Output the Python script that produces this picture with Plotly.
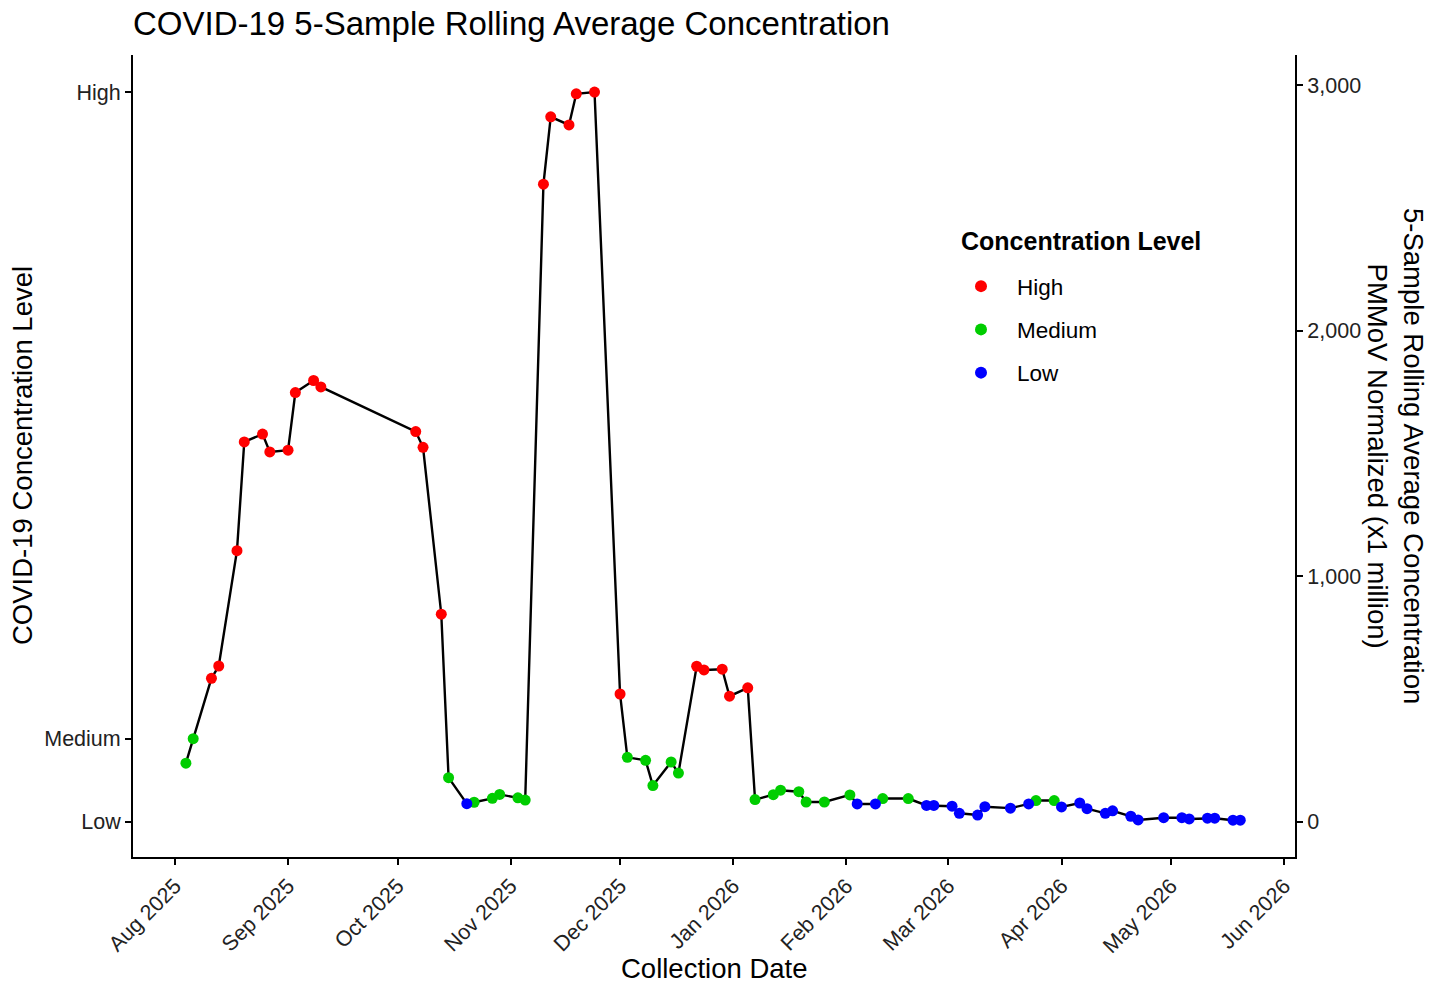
import plotly.graph_objects as go

# ---- data ----
dates = [
    "2025-08-04", "2025-08-06", "2025-08-11", "2025-08-13", "2025-08-18", "2025-08-20",
    "2025-08-25", "2025-08-27", "2025-09-01", "2025-09-03", "2025-09-08", "2025-09-10",
    "2025-10-06", "2025-10-08", "2025-10-13", "2025-10-15", "2025-10-20", "2025-10-22",
    "2025-10-27", "2025-10-29", "2025-11-03", "2025-11-05", "2025-11-10", "2025-11-12",
    "2025-11-17", "2025-11-19", "2025-11-24", "2025-12-01", "2025-12-03", "2025-12-08",
    "2025-12-10", "2025-12-15", "2025-12-17", "2025-12-22", "2025-12-24", "2025-12-29",
    "2025-12-31", "2026-01-05", "2026-01-07", "2026-01-12", "2026-01-14", "2026-01-19",
    "2026-01-21", "2026-01-26", "2026-02-02", "2026-02-04", "2026-02-09", "2026-02-11",
    "2026-02-18", "2026-02-23", "2026-02-25", "2026-03-02", "2026-03-04", "2026-03-09",
    "2026-03-11", "2026-03-18", "2026-03-23", "2026-03-25", "2026-03-30", "2026-04-01",
    "2026-04-06", "2026-04-08", "2026-04-13", "2026-04-15", "2026-04-20", "2026-04-22",
    "2026-04-29", "2026-05-04", "2026-05-06", "2026-05-11", "2026-05-13", "2026-05-18",
    "2026-05-20",
]
values = [
    238, 338, 584, 634, 1104, 1547,
    1579, 1506, 1513, 1748, 1797, 1771,
    1589, 1525, 845, 179, 73, 79,
    95, 111, 97, 88, 2597, 2871,
    2838, 2965, 2972, 520, 262, 250,
    147, 243, 198, 633, 618, 621,
    511, 545, 90, 110, 128, 122,
    80, 80, 109, 72, 72, 94,
    94, 66, 66, 63, 34, 27,
    61, 55, 72, 86, 86, 60,
    76, 53, 34, 44, 22, 7,
    16, 16, 11, 14, 14, 6,
    6,
]
levels = [
    "Medium", "Medium", "High", "High", "High", "High",
    "High", "High", "High", "High", "High", "High",
    "High", "High", "High", "Medium", "Low", "Medium",
    "Medium", "Medium", "Medium", "Medium", "High", "High",
    "High", "High", "High", "High", "Medium", "Medium",
    "Medium", "Medium", "Medium", "High", "High", "High",
    "High", "High", "Medium", "Medium", "Medium", "Medium",
    "Medium", "Medium", "Medium", "Low", "Low", "Medium",
    "Medium", "Low", "Low", "Low", "Low", "Low",
    "Low", "Low", "Low", "Medium", "Medium", "Low",
    "Low", "Low", "Low", "Low", "Low", "Low",
    "Low", "Low", "Low", "Low", "Low", "Low",
    "Low",
]
level_names = ["High", "Medium", "Low"]
level_colors = {"High": "#FF0000", "Medium": "#00CD00", "Low": "#0000FF"}
left_tick_vals = [0, 337, 2972]
left_tick_text = ["Low", "Medium", "High"]
right_tick_vals = [0, 1000, 2000, 3000]
month_ticks = ["2025-08-01", "2025-09-01", "2025-10-01", "2025-11-01", "2025-12-01",
               "2026-01-01", "2026-02-01", "2026-03-01", "2026-04-01", "2026-05-01",
               "2026-06-01"]

FONT = "Liberation Sans, Arial, Helvetica, sans-serif"
Y_RANGE = [-144, 3123]
X_RANGE = ["2025-07-20 12:00", "2026-06-04"]
TICK_COLOR = "#222222"

fig = go.Figure()

fig.add_trace(go.Scatter(
    x=dates, y=values, mode="lines",
    line=dict(color="black", width=2.4),
    showlegend=False, hoverinfo="skip", yaxis="y",
))

for lv in level_names:
    xs = [d for d, l in zip(dates, levels) if l == lv]
    ys = [v for v, l in zip(values, levels) if l == lv]
    fig.add_trace(go.Scatter(
        x=xs, y=ys, mode="markers", name=lv, legendgroup=lv,
        marker=dict(color=level_colors[lv], size=11, line=dict(width=0)),
        yaxis="y2",
    ))

axis_common = dict(
    showline=True, linecolor="black", linewidth=2,
    ticks="outside", ticklen=6, tickwidth=2, tickcolor="black",
    showgrid=False, zeroline=False,
    tickfont=dict(size=21.5, color=TICK_COLOR),
)

fig.update_layout(
    width=1440, height=984,
    margin=dict(l=133, r=145, t=55, b=127),
    paper_bgcolor="white", plot_bgcolor="white",
    font=dict(family=FONT, color="black"),
    title=dict(
        text="COVID-19 5-Sample Rolling Average Concentration",
        x=133 / 1440, xanchor="left", xref="container",
        y=1 - 23 / 984, yanchor="middle", yref="container",
        font=dict(size=33, color="black", family=FONT),
    ),
    xaxis=dict(
        range=X_RANGE, type="date",
        tickvals=month_ticks, tickformat="%b %Y", tickangle=-45,
        **axis_common,
    ),
    yaxis=dict(
        range=Y_RANGE, tickvals=left_tick_vals, ticktext=left_tick_text,
        **axis_common,
    ),
    yaxis2=dict(
        range=Y_RANGE, overlaying="y", side="right",
        tickvals=right_tick_vals, tickformat=",d",
        **axis_common,
    ),
    legend=dict(
        font=dict(size=22.5, color="black"),
        x=(945 - 133) / 1162, xanchor="left",
        y=(857 - 265) / 802, yanchor="top",
        bgcolor="rgba(0,0,0,0)",
        tracegroupgap=11,
        itemwidth=62,
        itemsizing="constant",
    ),
    annotations=[
        dict(text="<b>Concentration Level</b>", xref="paper", yref="paper",
             x=(959 - 133) / 1162, y=(857 - 241) / 802, xanchor="left", yanchor="middle",
             showarrow=False, font=dict(size=25, color="black")),
        dict(text="Collection Date", xref="paper", yref="paper",
             x=0.5, y=-(968 - 857) / 802, xanchor="center", yanchor="middle",
             showarrow=False, font=dict(size=27.5, color="black")),
        dict(text="COVID-19 Concentration Level", xref="paper", yref="paper",
             x=-(133 - 22) / 1162, y=0.5, xanchor="center", yanchor="middle",
             textangle=-90, showarrow=False, font=dict(size=27.5, color="black")),
        dict(text="5-Sample Rolling Average Concentration<br>PMMoV Normalized (x1 million)",
             xref="paper", yref="paper",
             x=1 + (1396 - 1295) / 1162, y=0.5, xanchor="center", yanchor="middle",
             textangle=90, showarrow=False, font=dict(size=27.5, color="black")),
    ],
)

fig.write_html(
    "out.html",
    config={"displayModeBar": False},
    post_script="document.body.style.margin='0';document.body.style.overflow='hidden';",
)
